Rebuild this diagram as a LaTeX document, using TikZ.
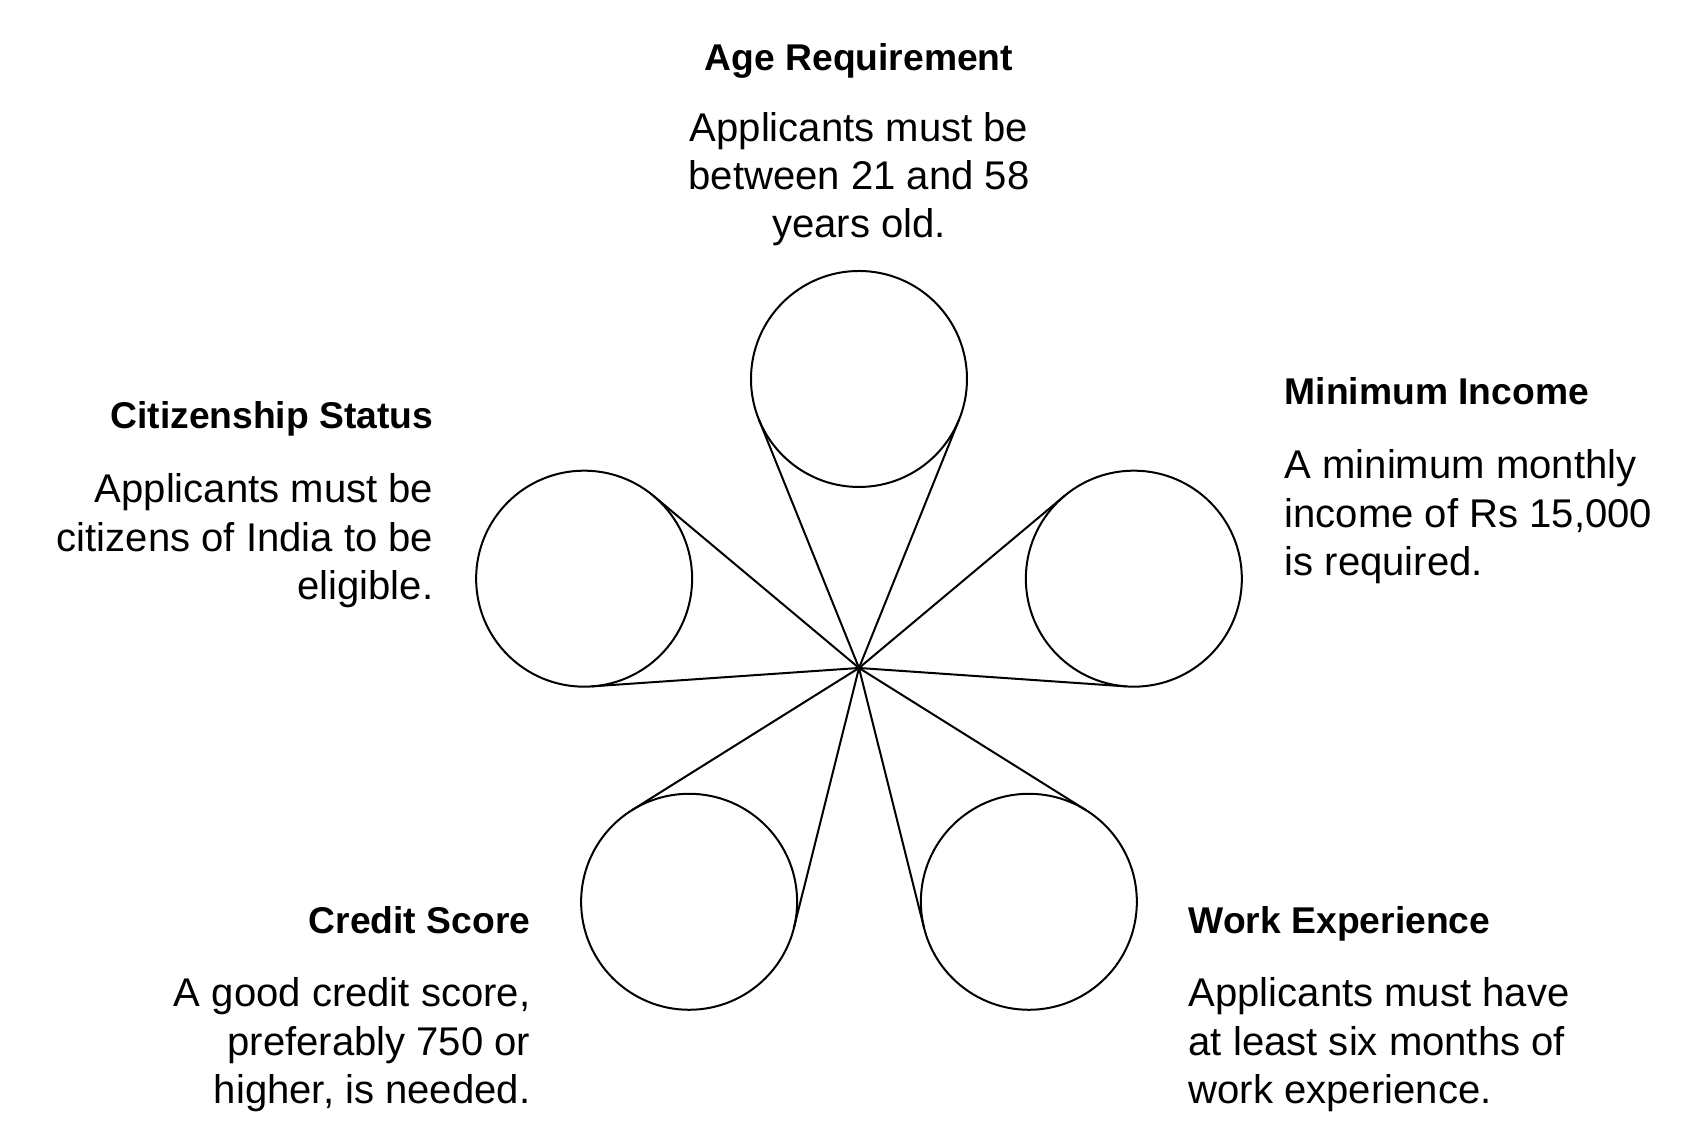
\documentclass[tikz,border=0pt]{standalone}
\usepackage{fontspec}
\setmainfont{Liberation Sans}
\usetikzlibrary{calc}

\tikzset{
    ring/.style={circle, draw, line width=0.02cm, minimum size=2.16cm, inner sep=0pt, outer sep=0pt},
    spoke/.style={line width=0.02cm},
    head/.style={font=\fontsize{10.6pt}{12pt}\selectfont\bfseries, inner sep=0pt},
    blurb/.style={font=\fontsize{11.4pt}{13.75pt}\selectfont, inner sep=0pt}
}

\begin{document}
\begin{tikzpicture}
    \useasboundingbox (-8.59,-4.65) rectangle (8.49,6.68);
    \coordinate (hub) at (0,0);
    \node [ring] (age) at (90:2.89) {};
    \node [ring] (citizen) at (162:2.89) {};
    \node [ring] (credit) at (234:2.89) {};
    \node [ring] (work) at (306:2.89) {};
    \node [ring] (income) at (18:2.89) {};
    \foreach \c in {age, citizen, credit, work, income} {
        \draw [spoke] (hub) -- (tangent cs:node=\c, point={(hub)}, solution=1);
        \draw [spoke] (hub) -- (tangent cs:node=\c, point={(hub)}, solution=2);
    }
    \node [head, anchor=base] (ageT) at (0,5.97) {Age Requirement};
    \node [blurb, align=center, anchor=north] (ageD) at (0,5.566) {Applicants must be\\between 21 and 58\\years old.};
    \node [head, anchor=base west] (incomeT) at (4.25,2.63) {Minimum Income};
    \node [blurb, align=left, anchor=north west] (incomeD) at (4.25,2.19) {A minimum monthly\\income of Rs 15,000\\is required.};
    \node [head, anchor=base east] (citizenT) at (-4.25,2.39) {Citizenship Status};
    \node [blurb, align=right, anchor=north east] (citizenD) at (-4.25,1.95) {Applicants must be\\citizens of India to be\\eligible.};
    \node [head, anchor=base west] (workT) at (3.29,-2.66) {Work Experience};
    \node [blurb, align=left, anchor=north west] (workD) at (3.29,-3.09) {Applicants must have\\at least six months of\\work experience.};
    \node [head, anchor=base east] (creditT) at (-3.28,-2.66) {Credit Score};
    \node [blurb, align=right, anchor=north east] (creditD) at (-3.28,-3.09) {A good credit score,\\preferably 750 or\\higher, is needed.};
\end{tikzpicture}
\end{document}
